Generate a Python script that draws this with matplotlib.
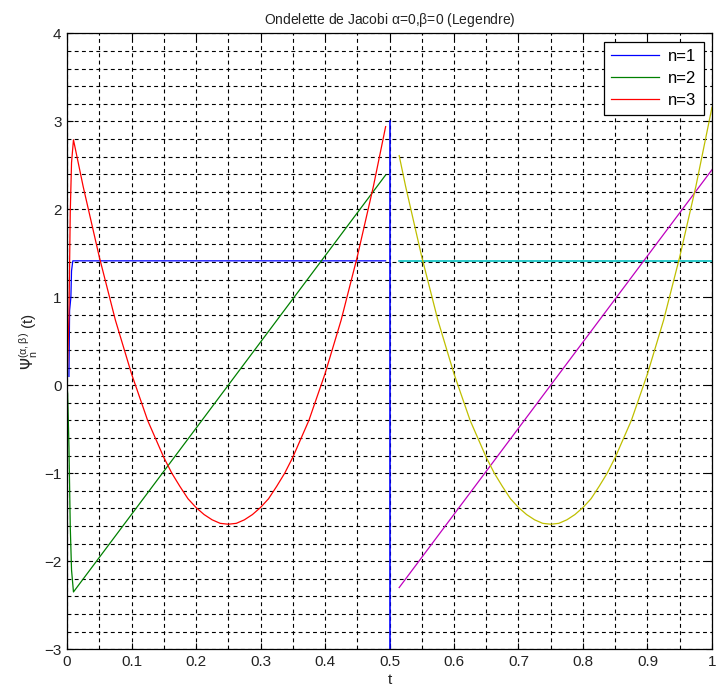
import matplotlib
matplotlib.use("Agg")
import matplotlib.pyplot as plt
from matplotlib.ticker import MultipleLocator

plt.rcParams["font.family"] = ["Liberation Sans", "DejaVu Sans"]
plt.rcParams["font.size"] = 10

# values
# left half (t in [0, 0.5))
t_n1_left = [0.003, 0.004, 0.006, 0.007, 0.009, 0.494]
y_n1_left = [0.10, 0.85, 1.00, 1.30, 1.414, 1.414]

t_n2_left = [0.0, 0.001, 0.003, 0.005, 0.007, 0.01, 0.494]
y_n2_left = [0.0, -0.10, -0.70, -1.60, -2.10, -2.35, 2.39]

t_n3_left = [0.0, 0.003, 0.005, 0.007, 0.01, 0.025, 0.05, 0.075, 0.1, 0.125,
             0.15, 0.1625, 0.175, 0.1875, 0.2, 0.2125, 0.225, 0.2375, 0.25,
             0.2625, 0.275, 0.2875, 0.3, 0.3125, 0.325, 0.3375, 0.35, 0.375,
             0.4, 0.425, 0.45, 0.475, 0.494]
y_n3_left = [0.0, 0.80, 1.96, 2.53, 2.79, 2.26, 1.46, 0.74, 0.13, -0.40,
             -0.82, -1.00, -1.15, -1.29, -1.39, -1.47, -1.53, -1.57, -1.58,
             -1.57, -1.53, -1.47, -1.39, -1.29, -1.15, -1.00, -0.82, -0.40,
             0.13, 0.74, 1.46, 2.26, 2.94]

# boundary line at t = 0.5
t_split = [0.5, 0.5]
y_split = [3.0, -3.0]

# right half (t in (0.5, 1])
t_n1_right = [0.515, 1.0]
y_n1_right = [1.414, 1.414]

t_n2_right = [0.515, 1.0]
y_n2_right = [-2.30, 2.45]

t_n3_right = [0.515, 0.525, 0.55, 0.575, 0.6, 0.625, 0.65, 0.6625, 0.675,
              0.6875, 0.7, 0.7125, 0.725, 0.7375, 0.75, 0.7625, 0.775, 0.7875,
              0.8, 0.8125, 0.825, 0.8375, 0.85, 0.875, 0.9, 0.925, 0.95, 0.975, 1.0]
y_n3_right = [2.61, 2.26, 1.46, 0.74, 0.13, -0.40, -0.82, -1.00, -1.15,
              -1.29, -1.39, -1.47, -1.53, -1.57, -1.58, -1.57, -1.53, -1.47,
              -1.39, -1.29, -1.15, -1.00, -0.82, -0.40, 0.13, 0.74, 1.46, 2.26, 3.16]

BLUE = (0, 0, 1)
GREEN = (0, 0.5, 0)
RED = (1, 0, 0)
CYAN = (0, 0.75, 0.75)
MAGENTA = (0.75, 0, 0.75)
YELLOW = (0.75, 0.75, 0)
LW = 0.9

fig = plt.figure(figsize=(7.16, 6.95), dpi=100)
ax = fig.add_axes([0.0936, 0.066, 0.9008, 0.886])

ax.plot(t_n1_left, y_n1_left, color=BLUE, lw=LW, label="n=1")
ax.plot(t_n2_left, y_n2_left, color=GREEN, lw=LW, label="n=2")
ax.plot(t_n3_left, y_n3_left, color=RED, lw=LW, label="n=3")
ax.plot(t_split, y_split, color=BLUE, lw=LW * 1.3)
ax.plot(t_n1_right, y_n1_right, color=CYAN, lw=LW * 1.3)
ax.plot(t_n2_right, y_n2_right, color=MAGENTA, lw=LW)
ax.plot(t_n3_right, y_n3_right, color=YELLOW, lw=LW)

ax.set_xlim(0, 1)
ax.set_ylim(-3, 4)
ax.xaxis.set_major_locator(MultipleLocator(0.1))
ax.xaxis.set_minor_locator(MultipleLocator(0.05))
ax.yaxis.set_major_locator(MultipleLocator(1))
ax.yaxis.set_minor_locator(MultipleLocator(0.2))
ax.set_xticks([0, 0.1, 0.2, 0.3, 0.4, 0.5, 0.6, 0.7, 0.8, 0.9, 1.0])
ax.set_xticklabels(["0", "0.1", "0.2", "0.3", "0.4", "0.5", "0.6", "0.7", "0.8", "0.9", "1"])
ax.tick_params(which="major", direction="in", length=4, width=0.8,
               top=True, right=True, labelsize=11, colors="k",
               labelcolor="#222222", pad=4)
ax.tick_params(which="minor", length=0, top=True, right=True)
ax.grid(which="both", color="k", lw=0.8, linestyle=(0, (3.5, 3)))
ax.set_axisbelow(True)
for s in ax.spines.values():
    s.set_linewidth(0.9)

ax.set_title(r"Ondelette de Jacobi $\mathregular{\alpha}$=0,$\mathregular{\beta}$=0 (Legendre)",
             fontsize=10, pad=7, color="#222222")
ax.set_xlabel("t", fontsize=11, labelpad=3, color="#222222")
ax.set_ylabel(r"$\Psi_{\mathregular{n}}^{\mathregular{(\alpha,\beta)}}$ (t)",
              fontsize=11, labelpad=2, color="#222222")

leg = ax.legend(loc="upper right", fontsize=12, fancybox=False, framealpha=1,
                edgecolor="k", handlelength=2.9, borderpad=0.45,
                labelspacing=0.4, handletextpad=0.5, borderaxespad=0.5)
leg.get_frame().set_linewidth(0.9)

fig.savefig("out.png", dpi=100)
